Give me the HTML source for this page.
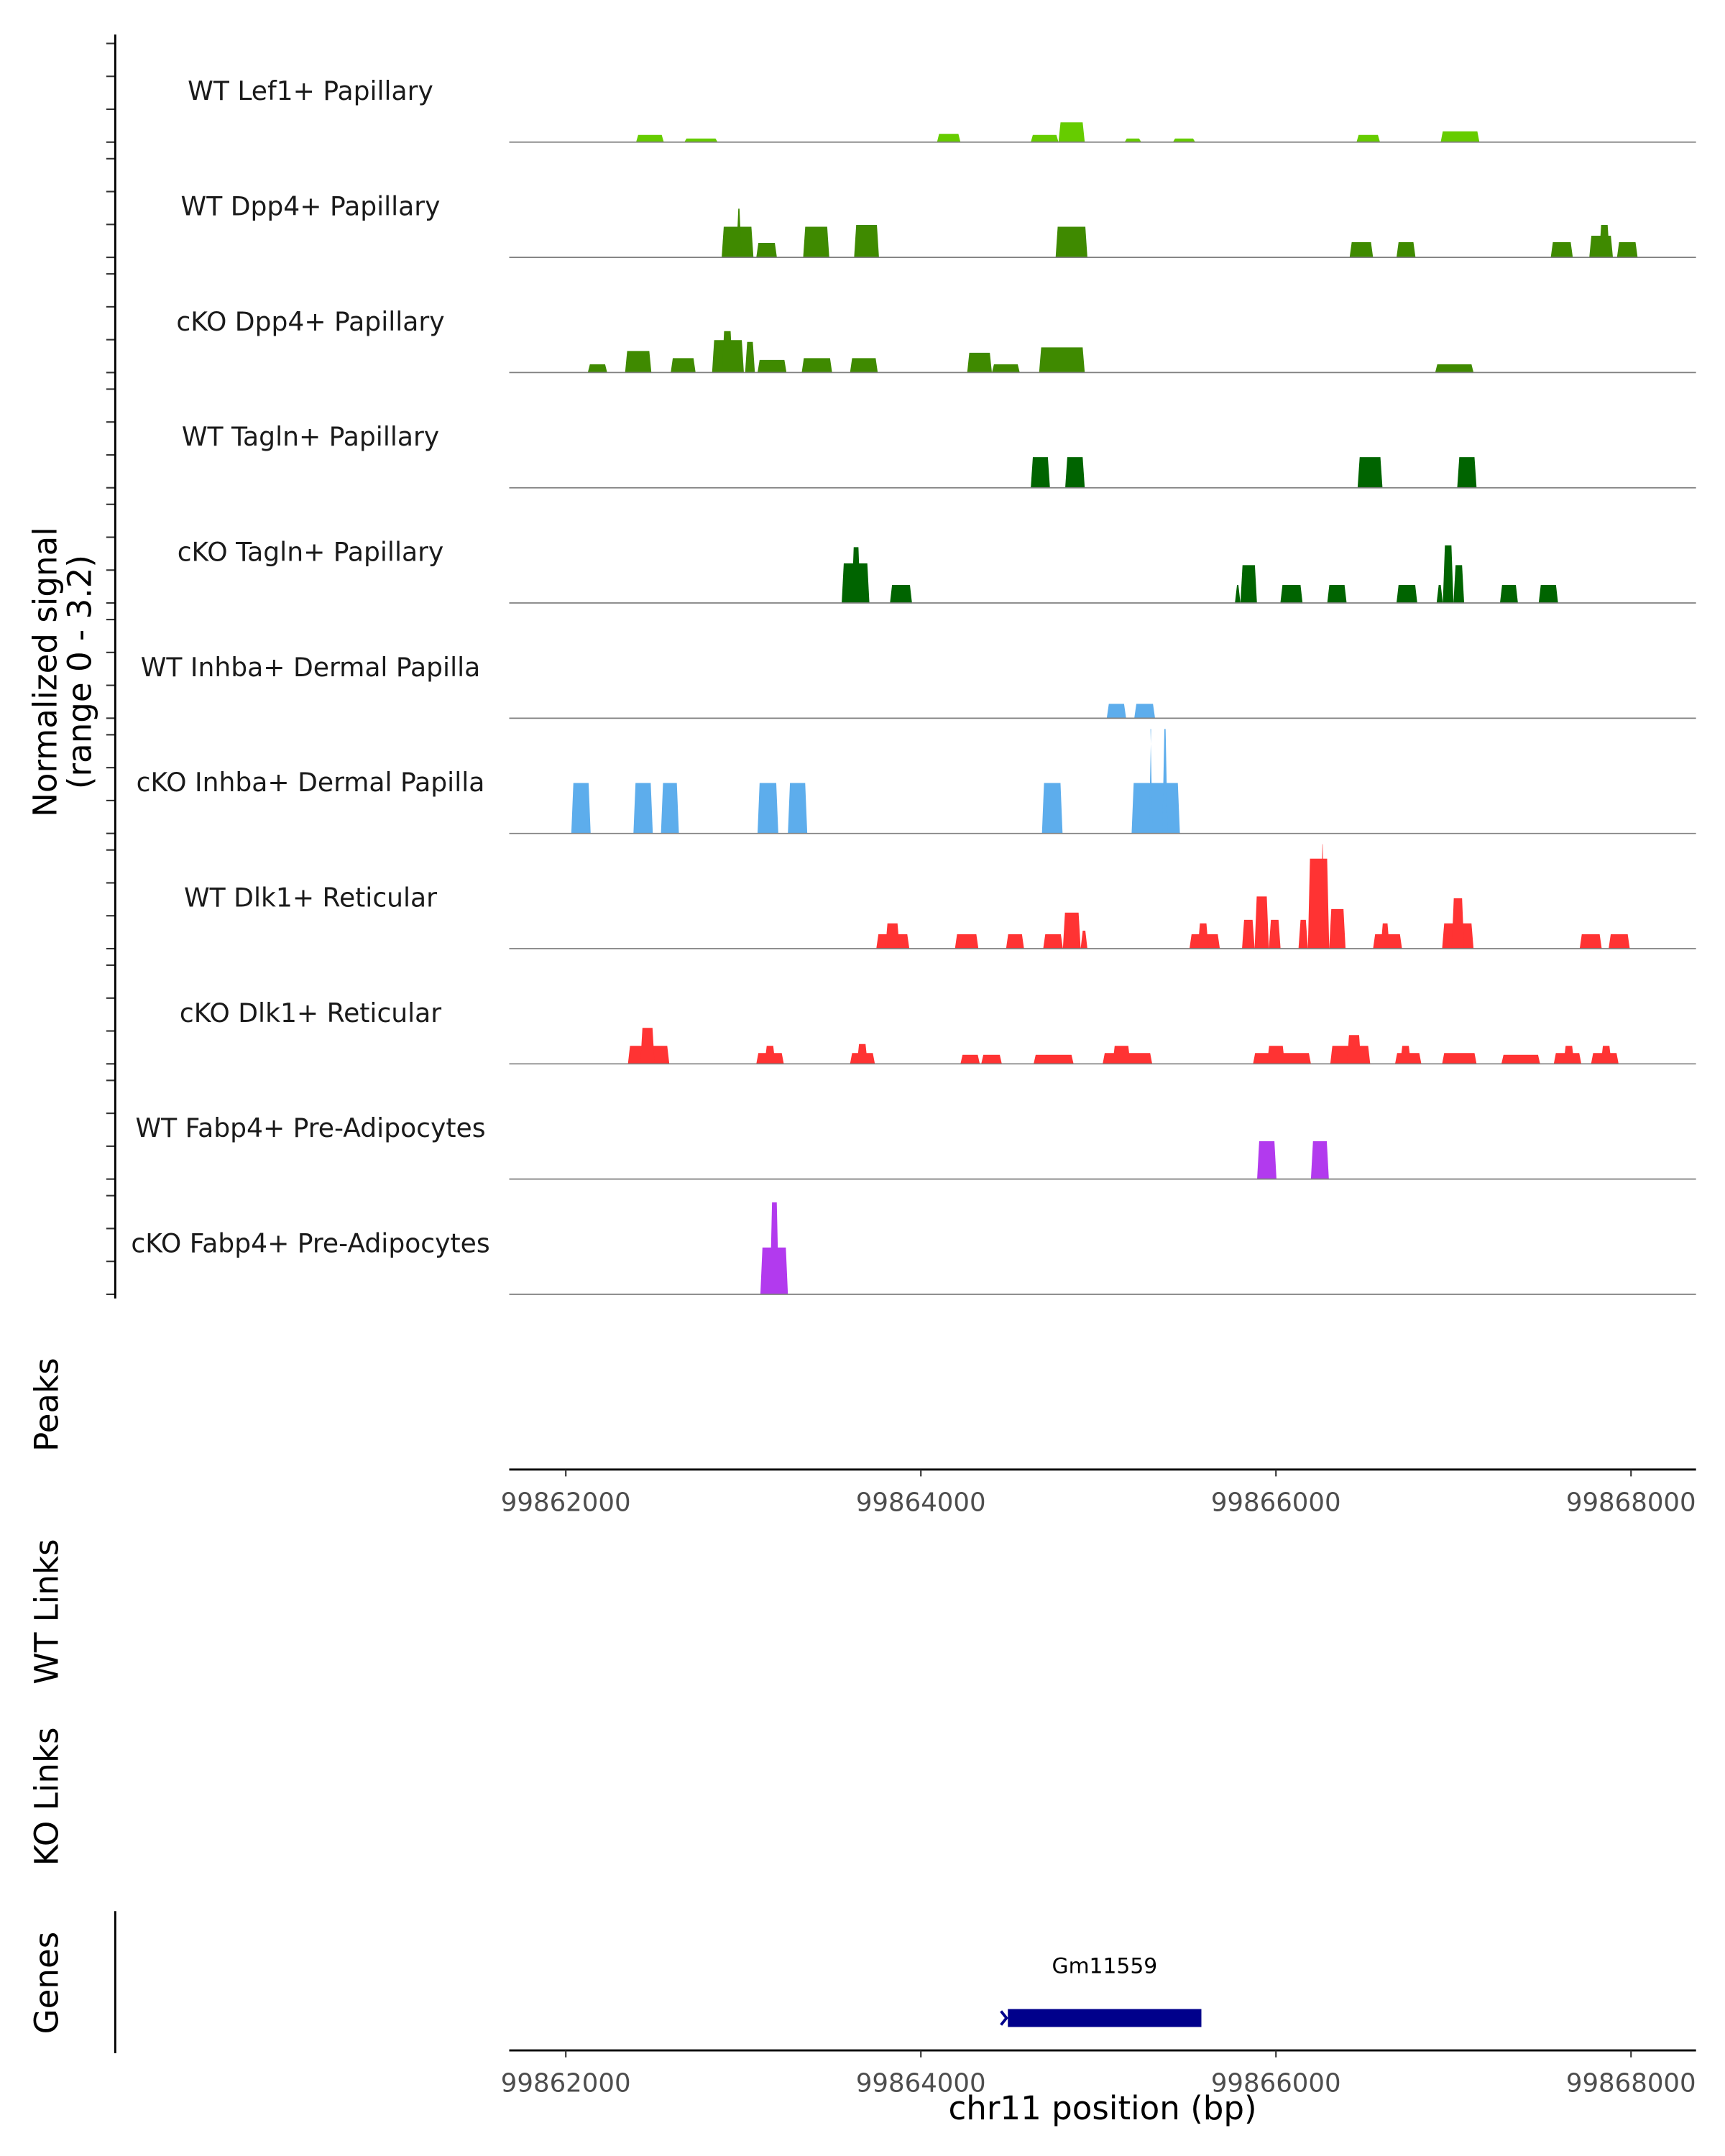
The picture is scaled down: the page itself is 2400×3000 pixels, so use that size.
<!DOCTYPE html>
<html><head><meta charset="utf-8"><style>
html,body{margin:0;padding:0;background:#fff;}
svg{display:block;font-family:"DejaVu Sans","Liberation Sans",sans-serif;}
</style></head><body>
<svg id="chart" width="2400" height="3000" viewBox="0 0 1250 1562.5" xmlns="http://www.w3.org/2000/svg">
<g id="tracks"></g>
<g id="axes"></g>
</svg>
<script>
const BASE = 99862000;
const xTicks = [99862000, 99864000, 99866000, 99868000];
const trackNames = ["WT Lef1+ Papillary","WT Dpp4+ Papillary","cKO Dpp4+ Papillary","WT Tagln+ Papillary","cKO Tagln+ Papillary","WT Inhba+ Dermal Papilla","cKO Inhba+ Dermal Papilla","WT Dlk1+ Reticular","cKO Dlk1+ Reticular","WT Fabp4+ Pre-Adipocytes","cKO Fabp4+ Pre-Adipocytes"];
const trackColors = ["#66CC00","#3F8A00","#3F8A00","#006400","#006400","#5DADEC","#5DADEC","#FF3333","#FF3333","#B23AEE","#B23AEE"];
// segments: [startOffset, endOffset, value] offsets in bp from BASE
const lef1WT = [[396,552,0.2],[668,855,0.1],[2091,2223,0.23],[2619,2775,0.2],[2775,2923,0.55],[3148,3241,0.1],[3420,3545,0.1],[4454,4586,0.2],[4928,5146,0.3]];
const dpp4WT = [[878,1057,0.85],[960,990,1.35],[1073,1189,0.4],[1337,1484,0.85],[1624,1764,0.9],[2759,2938,0.85],[4415,4547,0.42],[4679,4786,0.42],[5548,5672,0.42],[5765,5898,0.6],[5820,5880,0.9],[5921,6037,0.42]];
const dpp4KO = [[124,233,0.23],[334,482,0.6],[591,731,0.4],[824,1003,0.9],[880,940,1.15],[1010,1065,0.85],[1080,1243,0.35],[1329,1500,0.4],[1601,1757,0.4],[2261,2400,0.55],[2400,2557,0.23],[2666,2923,0.7],[4897,5113,0.23]];
const taglnWT = [[2619,2727,0.85],[2813,2923,0.85],[4460,4600,0.85],[5021,5130,0.85]];
const taglnKO = [[1554,1710,1.1],[1610,1660,1.55],[1826,1950,0.5],[3769,3800,0.5],[3800,3893,1.05],[4025,4150,0.5],[4289,4398,0.5],[4679,4796,0.5],[4905,4940,0.5],[4940,5000,1.6],[5000,5060,1.05],[5262,5363,0.5],[5480,5589,0.5]];
const inhbaWT = [[3047,3156,0.4],[3202,3319,0.4]];
const inhbaKO = [[31,140,1.4],[381,490,1.4],[536,637,1.4],[1080,1197,1.4],[1251,1360,1.4],[2682,2798,1.4],[3187,3459,1.4],[3285,3305,2.9],[3360,3390,2.9]];
const dlk1WT = [[1749,1935,0.4],[1800,1880,0.7],[2192,2324,0.4],[2480,2581,0.4],[2689,2800,0.4],[2800,2900,1.0],[2900,2938,0.5],[3513,3684,0.4],[3560,3620,0.7],[3809,3880,0.8],[3880,3960,1.45],[3960,4026,0.8],[4127,4180,0.8],[4180,4300,2.5],[4300,4392,1.1],[4250,4275,2.9],[4547,4710,0.4],[4590,4640,0.7],[4936,5113,0.7],[4990,5060,1.4],[5711,5835,0.4],[5874,5993,0.4]];
const dlk1KO = [[350,583,0.5],[420,500,1.0],[1073,1228,0.3],[1120,1180,0.5],[1601,1741,0.3],[1640,1700,0.55],[2223,2332,0.25],[2340,2456,0.25],[2635,2860,0.25],[3024,3303,0.3],[3080,3180,0.5],[3871,4197,0.3],[3950,4050,0.5],[4306,4531,0.5],[4400,4480,0.8],[4671,4819,0.3],[4700,4760,0.5],[4936,5130,0.3],[5270,5488,0.25],[5565,5720,0.3],[5620,5680,0.5],[5775,5930,0.3],[5830,5890,0.5]];
const fabp4WT = [[3894,4003,1.05],[4197,4298,1.05]];
const fabp4KO = [[1096,1251,1.3],[1150,1200,2.55]];
const trackData = [lef1WT,dpp4WT,dpp4KO,taglnWT,taglnKO,inhbaWT,inhbaKO,dlk1WT,dlk1KO,fabp4WT,fabp4KO];
const yTickVals = [0,1,2,3];
const gene = {name:"Gm11559", start:99864490, end:99865580};

const NS="http://www.w3.org/2000/svg";
const X0=369, X1=1229;
function xs(bp){return 410+(bp-99862000)*257.3/2000;}
const UNIT=26.1, FIRST_BASE=103, STEP=83.5;
function mk(tag,attrs,parent){const e=document.createElementNS(NS,tag);for(const k in attrs)e.setAttribute(k,attrs[k]);parent.appendChild(e);return e;}
const tracks=document.getElementById('tracks');
const axes=document.getElementById('axes');

trackNames.forEach((nm,i)=>{
  const base=FIRST_BASE+i*STEP;
  const g=mk('g',{},tracks);
  
  
  trackData[i].forEach(s=>{
    const a=xs(BASE+s[0]),b=xs(BASE+s[1]),top=base-s[2]*UNIT;
    const p=mk('polygon',{points:`${a},${base} ${a+1.5},${top} ${b-1.5},${top} ${b},${base}`,fill:trackColors[i]},g);
    
    
  });
  const l=mk('line',{x1:X0,x2:X1,y1:base,y2:base,stroke:'#7f7f7f','stroke-width':0.9},g);
  
  
  const t=mk('text',{x:225,y:base-30.5,'text-anchor':'middle','font-size':18.8,fill:'#1a1a1a'},g);
  t.textContent=nm;
  
  
  yTickVals.forEach(v=>{
    const y=base-v*(STEP-12)/3;
    const tk=mk('line',{x1:77,x2:83,y1:y,y2:y,stroke:'#333','stroke-width':1.1},axes);
    
    
  });
});
const ya=mk('line',{x1:83.5,x2:83.5,y1:25,y2:941,stroke:'#000','stroke-width':1.5},axes);


const yt=mk('text',{transform:'translate(41,487) rotate(-90)','text-anchor':'middle','font-size':23.5,fill:'#000'},axes);


mk('tspan',{x:0,dy:0},yt).textContent='Normalized signal';
mk('tspan',{x:0,dy:25},yt).textContent='(range 0 - 3.2)';

function sideLabel(txt,y,name){
  const t=mk('text',{transform:`translate(42,${y}) rotate(-90)`,'text-anchor':'middle','font-size':23.5,fill:'#000'},axes);
  t.textContent=txt;
  
  
}
sideLabel('Peaks',1018,'peaks-label');
sideLabel('WT Links',1168,'wt-links-label');
sideLabel('KO Links',1302,'ko-links-label');
sideLabel('Genes',1437,'genes-label');

function xAxis(y,name){
  const g=mk('g',{},axes);
  
  
  mk('line',{x1:X0,x2:X1,y1:y,y2:y,stroke:'#000','stroke-width':1.5},g);
  xTicks.forEach(v=>{
    const x=xs(v);
    mk('line',{x1:x,x2:x,y1:y,y2:y+5,stroke:'#333','stroke-width':1.1},g);
    const t=mk('text',{x:x,y:y+30,'text-anchor':'middle','font-size':18.5,fill:'#4d4d4d'},g);
    t.textContent=v;
    
    
  });
}
xAxis(1065,'peaks-x-axis');
xAxis(1486,'genes-x-axis');
const xt=mk('text',{x:799,y:1536,'text-anchor':'middle','font-size':23.5,fill:'#000'},axes);
xt.textContent='chr11 position (bp)';


const ga=mk('line',{x1:83.5,x2:83.5,y1:1385,y2:1488,stroke:'#000','stroke-width':1.5},axes);


// gene
const gb=mk('rect',{x:xs(gene.start),y:1456,width:xs(gene.end)-xs(gene.start),height:13,fill:'#00008B'},axes);


const sx=xs(gene.start);
const ar=mk('path',{d:`M${sx-5},1457.5 L${sx-1},1462.5 L${sx-5},1467.5`,stroke:'#00008B','stroke-width':2,fill:'none'},axes);


const gl=mk('text',{x:(xs(gene.start)+xs(gene.end))/2,y:1430,'text-anchor':'middle','font-size':15.5,fill:'#000'},axes);
gl.textContent=gene.name;


</script>
</body></html>
